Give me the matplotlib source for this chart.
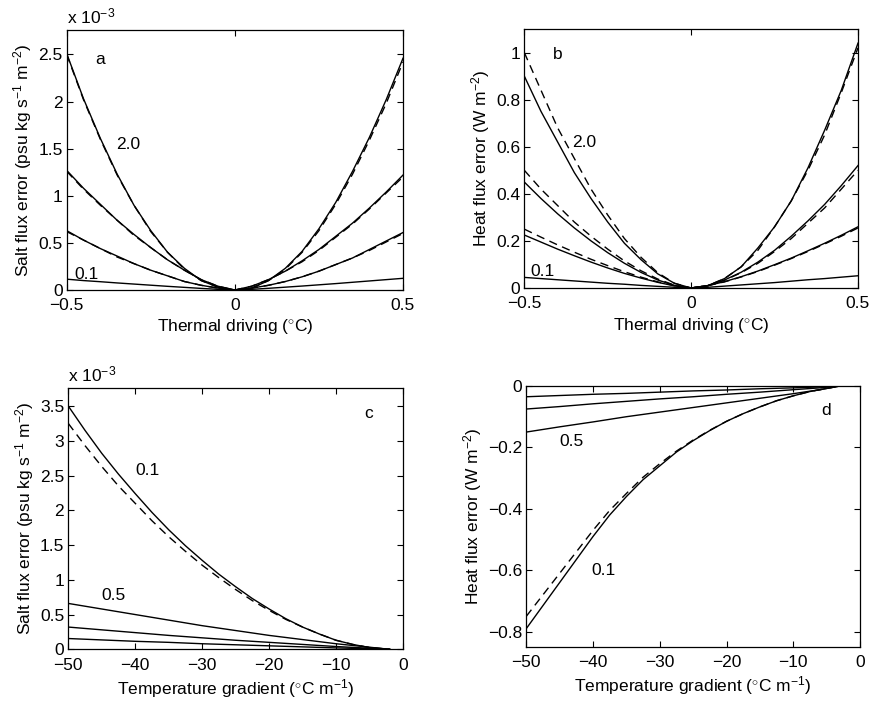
import matplotlib
matplotlib.use("Agg")
import matplotlib.pyplot as plt
import numpy as np

plt.rcParams['font.family'] = ['Liberation Sans', 'DejaVu Sans']
plt.rcParams['font.size'] = 12.5
plt.rcParams['mathtext.fontset'] = 'custom'
plt.rcParams['mathtext.rm'] = 'Liberation Sans'
plt.rcParams['mathtext.it'] = 'Liberation Sans'

# ---------------- data ----------------
# thermal driving (degC)
ab_x = [-0.5, -0.45, -0.4, -0.35, -0.3, -0.25, -0.2, -0.15, -0.1, -0.05, 0.0,
        0.05, 0.1, 0.15, 0.2, 0.25, 0.3, 0.35, 0.4, 0.45, 0.5]

# panel a: salt flux error (x 1e-3)
a_sol_20 = [2.51, 2.03, 1.61, 1.23, 0.90, 0.63, 0.40, 0.23, 0.10, 0.03, 0.0,
            0.02, 0.10, 0.23, 0.41, 0.65, 0.93, 1.26, 1.62, 2.02, 2.46]
a_das_20 = [2.50, 2.02, 1.60, 1.22, 0.90, 0.62, 0.40, 0.22, 0.10, 0.03, 0.0,
            0.02, 0.10, 0.22, 0.40, 0.63, 0.91, 1.23, 1.59, 1.98, 2.42]
a_sol_10 = [1.27, 1.08, 0.91, 0.74, 0.59, 0.45, 0.32, 0.21, 0.11, 0.04, 0.0,
            0.04, 0.11, 0.20, 0.31, 0.43, 0.57, 0.71, 0.87, 1.04, 1.22]
a_das_10 = [1.26, 1.07, 0.90, 0.74, 0.58, 0.45, 0.32, 0.21, 0.11, 0.04, 0.0,
            0.04, 0.11, 0.20, 0.30, 0.42, 0.56, 0.70, 0.86, 1.03, 1.20]
a_sol_05 = [0.63, 0.53, 0.44, 0.36, 0.28, 0.21, 0.15, 0.09, 0.05, 0.02, 0.0,
            0.02, 0.05, 0.09, 0.14, 0.20, 0.27, 0.34, 0.43, 0.52, 0.61]
a_das_05 = [0.62, 0.53, 0.44, 0.35, 0.28, 0.21, 0.15, 0.09, 0.05, 0.02, 0.0,
            0.02, 0.05, 0.09, 0.14, 0.20, 0.27, 0.34, 0.42, 0.51, 0.60]
a_sol_01 = [0.115, 0.10, 0.088, 0.075, 0.063, 0.051, 0.039, 0.028, 0.017, 0.007, 0.0,
            0.007, 0.018, 0.030, 0.042, 0.055, 0.068, 0.082, 0.096, 0.11, 0.124]

# panel b: heat flux error (W m-2)
b_sol_20 = [0.90, 0.75, 0.62, 0.49, 0.38, 0.28, 0.19, 0.12, 0.06, 0.02, 0.0,
            0.01, 0.04, 0.09, 0.17, 0.26, 0.37, 0.51, 0.67, 0.84, 1.04]
b_das_20 = [1.00, 0.84, 0.68, 0.55, 0.42, 0.31, 0.21, 0.13, 0.065, 0.02, 0.0,
            0.01, 0.04, 0.09, 0.16, 0.26, 0.37, 0.50, 0.65, 0.83, 1.02]
b_sol_10 = [0.45, 0.38, 0.315, 0.255, 0.20, 0.15, 0.105, 0.066, 0.034, 0.011, 0.0,
            0.01, 0.034, 0.067, 0.11, 0.16, 0.22, 0.285, 0.355, 0.435, 0.52]
b_das_10 = [0.50, 0.42, 0.35, 0.28, 0.22, 0.165, 0.115, 0.073, 0.038, 0.012, 0.0,
            0.01, 0.033, 0.065, 0.105, 0.155, 0.21, 0.275, 0.34, 0.42, 0.50]
b_sol_05 = [0.225, 0.195, 0.165, 0.137, 0.11, 0.085, 0.062, 0.042, 0.024, 0.009, 0.0,
            0.01, 0.027, 0.048, 0.072, 0.099, 0.127, 0.158, 0.19, 0.224, 0.26]
b_das_05 = [0.25, 0.216, 0.183, 0.152, 0.122, 0.095, 0.069, 0.046, 0.026, 0.01, 0.0,
            0.01, 0.026, 0.047, 0.07, 0.097, 0.125, 0.155, 0.187, 0.22, 0.255]
b_sol_01 = [0.045, 0.040, 0.035, 0.030, 0.025, 0.020, 0.016, 0.011, 0.007, 0.003, 0.0,
            0.003, 0.008, 0.013, 0.018, 0.023, 0.029, 0.035, 0.040, 0.046, 0.052]

# temperature gradient (degC m-1)
c_x = [-50, -45, -40, -35, -30, -25, -20, -15, -10, -5, -2]
c_x_fine = [-50, -47.5, -45, -42.5, -40, -37.5, -35, -32.5, -30, -27.5, -25,
            -22.5, -20, -17.5, -15, -12.5, -10, -7.5, -5, -2]
d_x = [-50, -45, -40, -35, -30, -25, -20, -15, -10, -6, -3]
d_x_fine = [-50, -47.5, -45, -42.5, -40, -37.5, -35, -32.5, -30, -27.5, -25,
            -22.5, -20, -17.5, -15, -12.5, -10, -7.5, -5, -3]

# panel c: salt flux error (x 1e-3)
c_sol_01 = [3.50, 3.15, 2.82, 2.52, 2.24, 1.97, 1.72, 1.49, 1.28, 1.08, 0.90,
            0.73, 0.58, 0.44, 0.32, 0.22, 0.13, 0.07, 0.025, 0.0]
c_das_01 = [3.25, 2.93, 2.63, 2.35, 2.10, 1.85, 1.62, 1.41, 1.21, 1.03, 0.86,
            0.70, 0.56, 0.43, 0.32, 0.22, 0.13, 0.07, 0.025, 0.0]
c_sol_05 = [0.66, 0.58, 0.50, 0.42, 0.34, 0.27, 0.20, 0.14, 0.08, 0.03, 0.0]
c_sol_10 = [0.32, 0.28, 0.24, 0.20, 0.165, 0.13, 0.10, 0.07, 0.04, 0.015, 0.0]
c_sol_20 = [0.155, 0.135, 0.115, 0.10, 0.08, 0.065, 0.05, 0.035, 0.02, 0.008, 0.0]

# panel d: heat flux error (W m-2)
d_sol_01 = [-0.79, -0.715, -0.64, -0.565, -0.49, -0.42, -0.36, -0.305, -0.26, -0.215,
            -0.178, -0.145, -0.115, -0.09, -0.068, -0.048, -0.032, -0.018, -0.008, 0.0]
d_das_01 = [-0.75, -0.68, -0.61, -0.54, -0.47, -0.405, -0.35, -0.297, -0.253, -0.212,
            -0.176, -0.144, -0.115, -0.09, -0.068, -0.048, -0.032, -0.018, -0.008, 0.0]
d_sol_05 = [-0.15, -0.133, -0.117, -0.10, -0.085, -0.07, -0.055, -0.04, -0.025, -0.012, 0.0]
d_sol_10 = [-0.075, -0.067, -0.058, -0.05, -0.042, -0.035, -0.027, -0.02, -0.012, -0.006, 0.0]
d_sol_20 = [-0.035, -0.031, -0.027, -0.024, -0.02, -0.016, -0.013, -0.009, -0.006, -0.003, 0.0]

# ---------------- plotting ----------------
W, H = 870, 704
fig = plt.figure(figsize=(8.7, 7.04), dpi=100)

def axes_px(l, t, r, b):
    return fig.add_axes([l / W, 1 - b / H, (r - l) / W, (b - t) / H])

axa = axes_px(66.7, 30, 403, 290)
axb = axes_px(524.3, 29, 858, 288)
axc = axes_px(68.3, 388, 403, 649.3)
axd = axes_px(526.3, 386, 860, 647)

LW = 1.0
DASH = (0, (6, 4))

def style(ax):
    ax.tick_params(direction='in', top=True, right=True, length=4, width=0.8,
                   labelsize=12.5)
    ax.tick_params(axis='x', pad=6)
    ax.tick_params(axis='y', pad=3)
    for s in ax.spines.values():
        s.set_linewidth(0.9)

scale = 1e-3
# panel a
for sol, das in [(a_sol_20, a_das_20), (a_sol_10, a_das_10), (a_sol_05, a_das_05)]:
    axa.plot(ab_x, np.array(das) * scale, color='k', lw=LW, ls=DASH)
    axa.plot(ab_x, np.array(sol) * scale, color='k', lw=LW)
axa.plot(ab_x, np.array(a_sol_01) * scale, color='k', lw=LW)
axa.set_xlim(-0.5, 0.5)
axa.set_ylim(0, 2.76e-3)
axa.set_xticks([-0.5, 0, 0.5])
axa.set_xticklabels(['\u22120.5', '0', '0.5'])
axa.set_yticks(np.array([0, 0.5, 1, 1.5, 2, 2.5]) * scale)
axa.set_yticklabels(['0', '0.5', '1', '1.5', '2', '2.5'])
axa.set_xlabel('Thermal driving ($^{\\circ}$C)', labelpad=3)
axa.set_ylabel('Salt flux error (psu kg s$^{-1}$ m$^{-2}$)', labelpad=3)
axa.text(0.0, 1.012, 'x 10$^{-3}$', transform=axa.transAxes, ha='left', va='bottom')
axa.text(-0.40, 2.45e-3, 'a', ha='center', va='center')
axa.text(-0.316, 1.54e-3, '2.0', ha='center', va='center')
axa.text(-0.44, 0.16e-3, '0.1', ha='center', va='center')
style(axa)

# panel b
for sol, das in [(b_sol_20, b_das_20), (b_sol_10, b_das_10), (b_sol_05, b_das_05)]:
    axb.plot(ab_x, das, color='k', lw=LW, ls=DASH)
    axb.plot(ab_x, sol, color='k', lw=LW)
axb.plot(ab_x, b_sol_01, color='k', lw=LW)
axb.set_xlim(-0.5, 0.5)
axb.set_ylim(0, 1.1)
axb.set_xticks([-0.5, 0, 0.5])
axb.set_xticklabels(['\u22120.5', '0', '0.5'])
axb.set_yticks([0, 0.2, 0.4, 0.6, 0.8, 1.0])
axb.set_yticklabels(['0', '0.2', '0.4', '0.6', '0.8', '1'])
axb.set_xlabel('Thermal driving ($^{\\circ}$C)', labelpad=3)
axb.set_ylabel('Heat flux error (W m$^{-2}$)', labelpad=3)
axb.text(-0.40, 0.99, 'b', ha='center', va='center')
axb.text(-0.32, 0.62, '2.0', ha='center', va='center')
axb.text(-0.445, 0.07, '0.1', ha='center', va='center')
style(axb)

# panel c
axc.plot(c_x_fine, np.array(c_das_01) * scale, color='k', lw=LW, ls=DASH)
axc.plot(c_x_fine, np.array(c_sol_01) * scale, color='k', lw=LW)
for ys in [c_sol_05, c_sol_10, c_sol_20]:
    axc.plot(c_x, np.array(ys) * scale, color='k', lw=LW)
axc.set_xlim(-50, 0)
axc.set_ylim(0, 3.76e-3)
axc.set_xticks([-50, -40, -30, -20, -10, 0])
axc.set_xticklabels(['\u221250', '\u221240', '\u221230', '\u221220', '\u221210', '0'])
axc.set_yticks(np.array([0, 0.5, 1, 1.5, 2, 2.5, 3, 3.5]) * scale)
axc.set_yticklabels(['0', '0.5', '1', '1.5', '2', '2.5', '3', '3.5'])
axc.set_xlabel('Temperature gradient ($^{\\circ}$C m$^{-1}$)', labelpad=3)
axc.set_ylabel('Salt flux error (psu kg s$^{-1}$ m$^{-2}$)', labelpad=3)
axc.text(0.0, 1.012, 'x 10$^{-3}$', transform=axc.transAxes, ha='left', va='bottom')
axc.text(-5.1, 3.4e-3, 'c', ha='center', va='center')
axc.text(-38.1, 2.58e-3, '0.1', ha='center', va='center')
axc.text(-43.2, 0.77e-3, '0.5', ha='center', va='center')
style(axc)

# panel d
axd.plot(d_x_fine, d_das_01, color='k', lw=LW, ls=DASH)
axd.plot(d_x_fine, d_sol_01, color='k', lw=LW)
for ys in [d_sol_05, d_sol_10, d_sol_20]:
    axd.plot(d_x, ys, color='k', lw=LW)
axd.set_xlim(-50, 0)
axd.set_ylim(-0.85, 0)
axd.set_xticks([-50, -40, -30, -20, -10, 0])
axd.set_xticklabels(['\u221250', '\u221240', '\u221230', '\u221220', '\u221210', '0'])
axd.set_yticks([-0.8, -0.6, -0.4, -0.2, 0])
axd.set_yticklabels(['\u22120.8', '\u22120.6', '\u22120.4', '\u22120.2', '0'])
axd.set_xlabel('Temperature gradient ($^{\\circ}$C m$^{-1}$)', labelpad=3)
axd.set_ylabel('Heat flux error (W m$^{-2}$)', labelpad=3)
axd.text(-5.1, -0.08, 'd', ha='center', va='center')
axd.text(-43.3, -0.18, '0.5', ha='center', va='center')
axd.text(-38.4, -0.60, '0.1', ha='center', va='center')
style(axd)

fig.savefig('out.png', dpi=100)
